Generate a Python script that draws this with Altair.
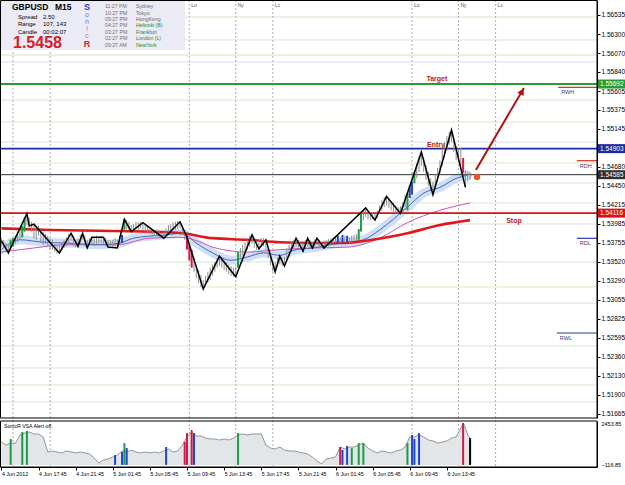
import altair as alt
import pandas as pd

FONT = "Liberation Sans"

# ---------------- data ----------------
# 15-minute bars, index 0 = 4 Jun 13:45
bar_high = [
    1.5381, 1.5379, 1.5375, 1.5373, 1.5379, 1.5381, 1.5384, 1.5389, 1.5391, 1.5396,
    1.5406, 1.5411, 1.5406, 1.5401, 1.5398, 1.5393, 1.5396, 1.5391, 1.5389, 1.5386,
    1.5384, 1.5381, 1.5379, 1.5374, 1.5371, 1.5373, 1.5376, 1.5379, 1.5382, 1.5386,
    1.5387, 1.5384, 1.5379, 1.5381, 1.5385, 1.5387, 1.5384, 1.5379, 1.5381, 1.5382,
    1.5381, 1.5384, 1.5382, 1.5384, 1.5382, 1.5381, 1.5379, 1.5378, 1.5379, 1.5381,
    1.5379, 1.5384, 1.5385, 1.5404, 1.5403, 1.5401, 1.5397, 1.5398, 1.5401, 1.5400,
    1.5401, 1.5400, 1.5397, 1.5396, 1.5393, 1.5392, 1.5391, 1.5392, 1.5390, 1.5387,
    1.5389, 1.5393, 1.5397, 1.5398, 1.5400, 1.5401, 1.5402, 1.5401, 1.5396, 1.5391,
    1.5384, 1.5373, 1.5367, 1.5357, 1.5348, 1.5342, 1.5336, 1.5330, 1.5335, 1.5340,
    1.5345, 1.5349, 1.5352, 1.5357, 1.5359, 1.5357, 1.5354, 1.5352, 1.5349, 1.5347,
    1.5345, 1.5346, 1.5364, 1.5369, 1.5373, 1.5376, 1.5379, 1.5384, 1.5385, 1.5381,
    1.5376, 1.5379, 1.5381, 1.5381, 1.5379, 1.5369, 1.5360, 1.5352, 1.5352, 1.5357,
    1.5359, 1.5357, 1.5358, 1.5367, 1.5373, 1.5376, 1.5379, 1.5381, 1.5379, 1.5376,
    1.5375, 1.5379, 1.5381, 1.5379, 1.5376, 1.5379, 1.5381, 1.5379, 1.5376, 1.5378,
    1.5379, 1.5380, 1.5381, 1.5382, 1.5384, 1.5384, 1.5382, 1.5385, 1.5384, 1.5384,
    1.5382, 1.5384, 1.5385, 1.5386, 1.5392, 1.5412, 1.5415, 1.5418, 1.5414, 1.5413,
    1.5412, 1.5411, 1.5415, 1.5421, 1.5428, 1.5431, 1.5432, 1.5429, 1.5426, 1.5424,
    1.5421, 1.5419, 1.5420, 1.5425, 1.5434, 1.5436, 1.5445, 1.5450, 1.5462, 1.5472,
    1.5481, 1.5486, 1.5479, 1.5470, 1.5462, 1.5454, 1.5450, 1.5458, 1.5467, 1.5476,
    1.5489, 1.5498, 1.5506, 1.5511, 1.5513, 1.5503, 1.5494, 1.5491, 1.5491, 1.5479,
    1.5464, 1.5462, 1.5461,
]
bar_low = [
    1.5371, 1.5369, 1.5364, 1.5363, 1.5370, 1.5371, 1.5374, 1.5376, 1.5379, 1.5382,
    1.5389, 1.5397, 1.5393, 1.5389, 1.5381, 1.5379, 1.5384, 1.5376, 1.5373, 1.5374,
    1.5371, 1.5367, 1.5367, 1.5364, 1.5362, 1.5363, 1.5367, 1.5369, 1.5371, 1.5375,
    1.5378, 1.5371, 1.5370, 1.5371, 1.5375, 1.5379, 1.5371, 1.5369, 1.5373, 1.5374,
    1.5371, 1.5374, 1.5373, 1.5375, 1.5374, 1.5371, 1.5370, 1.5369, 1.5370, 1.5371,
    1.5369, 1.5373, 1.5375, 1.5391, 1.5392, 1.5391, 1.5389, 1.5390, 1.5392, 1.5391,
    1.5393, 1.5391, 1.5389, 1.5387, 1.5386, 1.5385, 1.5384, 1.5384, 1.5382, 1.5381,
    1.5381, 1.5385, 1.5387, 1.5389, 1.5390, 1.5391, 1.5392, 1.5393, 1.5386, 1.5379,
    1.5367, 1.5354, 1.5345, 1.5340, 1.5332, 1.5326, 1.5321, 1.5319, 1.5323, 1.5327,
    1.5330, 1.5335, 1.5340, 1.5345, 1.5347, 1.5345, 1.5342, 1.5340, 1.5337, 1.5335,
    1.5334, 1.5334, 1.5345, 1.5357, 1.5360, 1.5364, 1.5367, 1.5371, 1.5374, 1.5369,
    1.5367, 1.5368, 1.5370, 1.5371, 1.5367, 1.5357, 1.5348, 1.5340, 1.5340, 1.5347,
    1.5349, 1.5347, 1.5347, 1.5354, 1.5360, 1.5367, 1.5369, 1.5371, 1.5370, 1.5367,
    1.5365, 1.5369, 1.5371, 1.5370, 1.5369, 1.5371, 1.5373, 1.5370, 1.5369, 1.5369,
    1.5370, 1.5371, 1.5373, 1.5374, 1.5375, 1.5375, 1.5375, 1.5376, 1.5376, 1.5375,
    1.5375, 1.5376, 1.5378, 1.5378, 1.5379, 1.5389, 1.5403, 1.5407, 1.5404, 1.5403,
    1.5404, 1.5403, 1.5406, 1.5411, 1.5415, 1.5419, 1.5421, 1.5418, 1.5415, 1.5413,
    1.5412, 1.5411, 1.5411, 1.5413, 1.5419, 1.5415, 1.5430, 1.5434, 1.5448, 1.5454,
    1.5462, 1.5469, 1.5462, 1.5452, 1.5445, 1.5440, 1.5434, 1.5440, 1.5450, 1.5458,
    1.5469, 1.5479, 1.5489, 1.5495, 1.5498, 1.5486, 1.5476, 1.5474, 1.5470, 1.5461,
    1.5443, 1.5450, 1.5452,
]
colored_index = [4, 5, 9, 10, 52, 53, 80, 81, 82, 102, 145, 147, 149, 154, 155, 175, 176, 177, 178, 199]
colored_class = ["up", "up", "up", "up", "neutral", "up", "down", "down", "down", "up",
                 "neutral", "neutral", "neutral", "up", "up", "up", "neutral", "neutral", "up", "down"]

zz_index = [0, 3, 11, 12, 14, 25, 30, 33, 35, 37, 39, 44, 46, 50, 53, 56, 61, 70, 77, 80,
            87, 94, 101, 108, 111, 114, 118, 120, 122, 127, 130, 132, 134, 136, 139, 157, 161,
            166, 172, 181, 186, 194, 200]
zz_price = [1.5378, 1.5363, 1.5411, 1.5396, 1.5398, 1.5363, 1.5387, 1.5371, 1.5387, 1.5369,
            1.5382, 1.5382, 1.5370, 1.5369, 1.5404, 1.5389, 1.5400, 1.5381, 1.5401, 1.5382,
            1.5319, 1.5359, 1.5334, 1.5385, 1.5368, 1.5379, 1.5340, 1.5359, 1.5347, 1.5381,
            1.5365, 1.5381, 1.5369, 1.5381, 1.5369, 1.5418, 1.5403, 1.5432, 1.5411, 1.5486,
            1.5434, 1.5513, 1.5443]

ma_red_index = [0, 21, 42, 64, 78, 91, 106, 120, 134, 146, 160, 175, 189, 202]
ma_red = [1.5393, 1.5391, 1.5390, 1.5389, 1.5387, 1.5381, 1.5379, 1.5376, 1.5375, 1.5375,
          1.5379, 1.5387, 1.5397, 1.5403]
ma_pink_index = [0, 14, 28, 50, 64, 77, 86, 91, 106, 120, 134, 149, 163, 175, 189, 202]
ma_pink = [1.5364, 1.5369, 1.5373, 1.5373, 1.5381, 1.5382, 1.5376, 1.5370, 1.5364, 1.5367,
           1.5369, 1.5370, 1.5381, 1.5400, 1.5415, 1.5424]
ma_blue_index = [0, 8, 18, 28, 42, 51, 57, 71, 78, 84, 91, 99, 106, 113, 120, 127, 134, 142,
                 149, 156, 163, 175, 182, 189, 196, 201]
ma_blue = [1.5367, 1.5379, 1.5376, 1.5375, 1.5373, 1.5375, 1.5381, 1.5385, 1.5387, 1.5375,
           1.5363, 1.5354, 1.5358, 1.5363, 1.5360, 1.5367, 1.5369, 1.5373, 1.5376, 1.5379,
           1.5391, 1.5419, 1.5436, 1.5443, 1.5454, 1.5458]

vol_index = list(range(0, 200, 2)) + [199, 200, 201, 202]
vol = [1280, 1110, 1220, 1200, 1670, 1780, 1840, 1730, 1730, 1560,
       720, 780, 720, 670, 780, 720, 670, 720, 670, 610,
       390, 110, 270, 330, 440, 550, 780, 720, 830, 720,
       670, 720, 670, 720, 670, 780, 890, 720, 780, 1110,
       1560, 1840, 1620, 1620, 1500, 1450, 1450, 1390, 1450, 1390,
       1500, 1670, 1730, 1670, 1730, 1730, 1730, 1110, 940, 890,
       1000, 830, 780, 780, 720, 670, 610, 440, 220, 50,
       330, 390, 440, 1000, 890, 1000, 1000, 1110, 1220, 940,
       780, 670, 780, 720, 670, 780, 830, 1000, 1560, 1560,
       1670, 1560, 1390, 1340, 1220, 1280, 1340, 1500, 1560, 2060,
       2340, 2060, 1670, 1500]
vsa_index = [4, 9, 11, 49, 52, 53, 54, 71, 79, 80, 82, 83, 102, 146, 147, 149, 151, 154, 156,
             175, 177, 178, 180, 199, 202]
vsa_value = [1450, 1840, 1900, 550, 720, 1220, 940, 1000, 1280, 1780, 1950, 1780, 1780, 1000,
             830, 1060, 940, 1220, 1220, 1220, 1670, 1450, 1780, 2340, 1500]
vsa_class = ["up", "up", "up", "neutral", "neutral", "up", "neutral", "neutral", "down", "down",
             "down", "neutral", "up", "down", "neutral", "neutral", "up", "up", "up", "up",
             "neutral", "neutral", "neutral", "down", "current"]

price_ticks = [1.56535, 1.56300, 1.56070, 1.55840, 1.55605, 1.55375, 1.55145, 1.54680, 1.54450,
               1.54215, 1.53985, 1.53755, 1.53520, 1.53290, 1.53055, 1.52825, 1.52595, 1.52360,
               1.52130, 1.51900, 1.51665]
xtick_index = [0, 16, 32, 48, 64, 80, 96, 112, 128, 144, 160, 176, 192]
xtick_labels = ["4 Jun 2012", "4 Jun 17:45", "4 Jun 21:45", "5 Jun 01:45", "5 Jun 05:45",
                "5 Jun 09:45", "5 Jun 13:45", "5 Jun 17:45", "5 Jun 21:45", "6 Jun 01:45",
                "6 Jun 05:45", "6 Jun 09:45", "6 Jun 13:45"]

key_levels = [1.55692, 1.54903, 1.54585, 1.54116]
key_names = ["target", "entry", "current", "stop"]
fib_levels = [1.56510, 1.56046, 1.55497, 1.54484, 1.53519, 1.52493, 1.51810,
              1.56230, 1.55228, 1.54728, 1.54239, 1.53214, 1.52017,
              1.55961, 1.54984, 1.53983, 1.53018, 1.52225]
fib_kind = ["g"] * 7 + ["t"] * 6 + ["l"] * 5
ref_labels = ["RWH", "RDH", "RDL", "RWL"]
ref_price = [1.55652, 1.54756, 1.53808, 1.52652]
ref_kind = ["high", "high", "low", "low"]
session_index = [5, 21, 81, 101, 117, 177, 197, 213]
session_label = ["", "", "Lo", "Ny", "Lc", "Lo", "Ny", "Lc"]   # first two hidden by the info box

# ---------------- layout / style ----------------
W, H = 597, 467            # whole plotting area (price panel + VSA panel)
MAIN_BOTTOM, VOL_TOP = 418, 421
x_scale = alt.Scale(domain=[-0.6, 256.7], nice=False, zero=False)
y_scale = alt.Scale(domain=[1.51614, 1.56718], range=[MAIN_BOTTOM, 0], nice=False, zero=False)
v_scale = alt.Scale(domain=[-116.85, 2453.85], range=[H, VOL_TOP], nice=False, zero=False)
CLASS_COL = {"up": "#1f9a48", "neutral": "#2444c8", "down": "#d01a4a", "current": "#000000"}
FIB_COL = {"g": "#cfe8c8", "t": "#ebe0c8", "l": "#dcdcf2"}
KEY_COL = {"target": "#2f9a2f", "entry": "#1c2a9c", "current": "#303030", "stop": "#e01010"}
KEY_W = {"target": 2, "entry": 1.6, "current": 1, "stop": 1.6}
REF_COL = {"high": "#e03020", "low": "#2a3ab0"}
ref_start = [240, 248, 248, 239.4]
ARROW = "#b01010"

y_axis = alt.Axis(orient="right", values=price_ticks, format=".5f", title=None, grid=False,
                  labelFont=FONT, labelFontSize=6.5, labelColor="#000", tickSize=3,
                  tickColor="#000", domainColor="#000", labelPadding=1, labelFlush=False,
                  labelOverlap=False, labelBound=False)
label_expr = "[" + ",".join("'%s'" % s for s in xtick_labels) + "][round(datum.value/16)]"
x_axis = alt.Axis(orient="bottom", values=xtick_index, labelExpr=label_expr, title=None,
                  grid=False, labelFont=FONT, labelFontSize=5.3, labelColor="#000",
                  labelAlign="left", tickSize=3, tickColor="#000", domainColor="#000",
                  labelPadding=1, labelFlush=False, labelOverlap=False, labelBound=False)
v_axis = alt.Axis(orient="right", values=[-116.85, 2453.85], format=".2f", title=None,
                  grid=False, labelFont=FONT, labelFontSize=5.5, labelColor="#000", tickSize=0,
                  domainColor="#000", labelPadding=4, labelFlush=True, labelOverlap=False)


def X(f):
    return alt.X(f, type="quantitative", scale=x_scale, axis=x_axis)


def Y(f):
    return alt.Y(f, type="quantitative", scale=y_scale, axis=y_axis)


def YV(f):
    return alt.Y(f, type="quantitative", scale=v_scale, axis=v_axis)


# ---------------- frames ----------------
bars = pd.DataFrame({"i": list(range(len(bar_high))), "hi": bar_high, "lo": bar_low})
cmap = dict(zip(colored_index, colored_class))
bars["cls"] = [cmap.get(i, "plain") for i in bars["i"]]
bars["col"] = [CLASS_COL.get(c, "#8e8e8e") for c in bars["cls"]]
plain = bars[bars["cls"] == "plain"]
colored = bars[bars["cls"] != "plain"]

zz = pd.DataFrame({"i": zz_index, "p": zz_price})
red_df = pd.DataFrame({"i": ma_red_index, "p": ma_red})
pink_df = pd.DataFrame({"i": ma_pink_index, "p": ma_pink})
blue_df = pd.DataFrame({"i": ma_blue_index, "p": ma_blue})
fib_df = pd.DataFrame({"p": fib_levels, "col": [FIB_COL[k] for k in fib_kind]})
key_df = pd.DataFrame({"p": key_levels, "name": key_names,
                       "col": [KEY_COL[k] for k in key_names],
                       "w": [KEY_W[k] for k in key_names],
                       "label": ["%.5f" % v for v in key_levels]})
ref_df = pd.DataFrame({"i": ref_start, "i2": [256.7] * 4, "p": ref_price, "label": ref_labels,
                       "col": [REF_COL[k] for k in ref_kind]})
sess_df = pd.DataFrame({"i": session_index, "label": session_label})
sess_lab = sess_df[sess_df["label"] != ""]
one = pd.DataFrame({"k": [0]})

ann_df = pd.DataFrame({"label": ["Target", "Entry", "Stop"], "i": [187.7, 187.3, 220.9],
                       "p": [1.55753, 1.54948, 1.54020]})
arrow_df = pd.DataFrame({"i": [204.5, 225.2], "p": [1.54642, 1.55644]})
head_df = pd.DataFrame({"i": [224.4], "p": [1.55601]})
dot_df = pd.DataFrame({"i": [205.0], "p": [1.54557]})

main_layers = [
    alt.Chart(fib_df).mark_rule(strokeWidth=1).encode(y=Y("p"), color=alt.Color("col:N", scale=None)),
    alt.Chart(sess_df).mark_rule(strokeWidth=1, strokeDash=[2, 2], color="#b0b0b0").encode(x=X("i")),
    alt.Chart(blue_df).mark_line(color="#cde0f5", strokeWidth=9, interpolate="monotone",
                                 strokeCap="round").encode(x=X("i"), y=Y("p")),
    alt.Chart(pink_df).mark_line(color="#d050b8", strokeWidth=1, interpolate="monotone").encode(x=X("i"), y=Y("p")),
    alt.Chart(blue_df).mark_line(color="#4a62c0", strokeWidth=1, interpolate="monotone").encode(x=X("i"), y=Y("p")),
    alt.Chart(red_df).mark_line(color="#e01818", strokeWidth=2.6, interpolate="monotone").encode(x=X("i"), y=Y("p")),
    alt.Chart(key_df).mark_rule().encode(y=Y("p"), color=alt.Color("col:N", scale=None),
                                         strokeWidth=alt.StrokeWidth("w:Q", scale=None)),
    alt.Chart(plain).mark_rule(strokeWidth=1, color="#8e8e8e").encode(x=X("i"), y=Y("hi"), y2="lo"),
    alt.Chart(colored).mark_rule(strokeWidth=2).encode(x=X("i"), y=Y("hi"), y2="lo",
                                                      color=alt.Color("col:N", scale=None)),
    alt.Chart(zz).mark_line(color="#000000", strokeWidth=1.5).encode(x=X("i"), y=Y("p")),
    alt.Chart(ref_df).mark_rule(strokeWidth=1.2).encode(x=X("i"), x2="i2", y=Y("p"),
                                                       color=alt.Color("col:N", scale=None)),
    alt.Chart(ref_df).mark_text(align="left", baseline="middle", dx=3, dy=5, font=FONT,
                                fontSize=5.5, color="#3a3a70").encode(x=X("i"), y=Y("p"), text="label:N"),
    alt.Chart(ann_df).mark_text(align="center", baseline="middle", font=FONT, fontSize=7,
                                fontWeight="bold", color="#b81c1c").encode(x=X("i"), y=Y("p"), text="label:N"),
    alt.Chart(arrow_df).mark_line(color=ARROW, strokeWidth=2).encode(x=X("i"), y=Y("p")),
    alt.Chart(head_df).mark_point(shape="triangle-up", filled=True, size=55, angle=30,
                                  color=ARROW, opacity=1).encode(x=X("i"), y=Y("p")),
    alt.Chart(dot_df).mark_circle(size=40, color="#f05020", opacity=1).encode(x=X("i"), y=Y("p")),
    alt.Chart(sess_lab).mark_text(align="left", baseline="middle", dx=2, font=FONT, fontSize=5,
                                  color="#555555").encode(x=X("i"), y=alt.value(5), text="label:N"),
    alt.Chart(one).mark_rect(color="#ebebf6").encode(x=alt.value(1), x2=alt.value(185),
                                                      y=alt.value(1), y2=alt.value(50)),
    # panel frames
    alt.Chart(one).mark_rect(fillOpacity=0, stroke="#000000", strokeWidth=1)
    .encode(x=alt.value(0.5), x2=alt.value(W), y=alt.value(0.5), y2=alt.value(MAIN_BOTTOM)),
    alt.Chart(one).mark_rect(fillOpacity=0, stroke="#000000", strokeWidth=1)
    .encode(x=alt.value(0.5), x2=alt.value(W), y=alt.value(VOL_TOP), y2=alt.value(H)),
    alt.Chart(key_df).mark_rule(strokeWidth=9).encode(x=alt.value(W + 1), x2=alt.value(625), y=Y("p"),
                                                     color=alt.Color("col:N", scale=None)),
    alt.Chart(key_df).mark_text(align="left", baseline="middle", font=FONT, fontSize=6.5,
                                color="white").encode(x=alt.value(W + 3), y=Y("p"), text="label:N"),
]

# info panel texts: (text, x, y, size, color, weight, align)
panel_items = [
    ("GBPUSD", 12, 7, 8.5, "#000000", "bold", "left"),
    ("M15", 55, 7, 8.5, "#000000", "bold", "left"),
    ("Spread", 18, 16.5, 6, "#000000", "normal", "left"),
    ("2.50", 43, 16.5, 6, "#000000", "normal", "left"),
    ("Range", 18, 24, 6, "#000000", "normal", "left"),
    ("107, 143", 43, 24, 6, "#000000", "normal", "left"),
    ("Candle", 18, 31.5, 6, "#000000", "normal", "left"),
    ("00:02:07", 43, 31.5, 6, "#000000", "normal", "left"),
    ("1.5458", 13, 43, 16, "#d42028", "bold", "left"),
    ("S", 87, 7, 9, "#1f3fd0", "bold", "center"),
    ("o", 87, 15, 7, "#7474d6", "normal", "center"),
    ("n", 87, 22, 7, "#7474d6", "normal", "center"),
    ("i", 87, 29, 7, "#8c7cd0", "normal", "center"),
    ("c", 87, 36, 7, "#d06a96", "normal", "center"),
    ("R", 87, 44, 9, "#d42030", "bold", "center"),
]
times = ["11:27 PM", "10:27 PM", "09:27 PM", "04:27 PM", "03:27 PM", "02:27 PM", "09:27 AM"]
cities = ["Sydney", "Tokyo", "HongKong", "Helsinki (B)", "Frankfurt", "London (L)", "NewYork"]
rows_y = [6, 12.5, 19, 25.3, 31.7, 38, 44.5]
for k, (t, c) in enumerate(zip(times, cities)):
    panel_items.append((t, 105, rows_y[k], 5.2, "#7a6e62", "normal", "left"))
    panel_items.append((c, 136, rows_y[k], 5.2, "#6a6a6a" if k < 3 else "#2a8a2a", "normal", "left"))

for t, px, py, fs, col, fw, al in panel_items:
    main_layers.append(alt.Chart(one).mark_text(font=FONT, fontSize=fs, color=col, fontWeight=fw,
                                                align=al, baseline="middle")
                       .encode(x=alt.value(px), y=alt.value(py), text=alt.value(t)))

main = alt.layer(*main_layers)

# ---------------- VSA panel ----------------
vol_df = pd.DataFrame({"i": vol_index, "v": vol})
vsa_df = pd.DataFrame({"i": vsa_index, "v": vsa_value, "z": [0] * len(vsa_index),
                       "col": [CLASS_COL[c] for c in vsa_class]})
vol_layers = [
    alt.Chart(vol_df).mark_area(color="#e2e6e8").encode(x=X("i"), y=YV("v")),
    alt.Chart(vol_df).mark_line(color="#7e7e7e", strokeWidth=0.8).encode(x=X("i"), y=YV("v")),
    alt.Chart(vsa_df).mark_rule(strokeWidth=2).encode(x=X("i"), y=YV("v"), y2="z",
                                                     color=alt.Color("col:N", scale=None)),
    alt.Chart(one).mark_text(font=FONT, fontSize=5.2, align="left", baseline="middle", color="#000")
    .encode(x=alt.value(4), y=alt.value(VOL_TOP + 5), text=alt.value("SonicR VSA   Alert off.")),
]
volg = alt.layer(*vol_layers)

chart = (alt.layer(main, volg)
         .resolve_scale(y="independent")
         .properties(width=W, height=H,
                     autosize=alt.AutoSizeParams(type="none"),
                     padding={"left": 0, "top": 0, "right": 625 - W, "bottom": 485 - H},
                     background="white")
         .configure_view(strokeWidth=0))

chart.save("out.html", embed_options={"renderer": "svg", "actions": False})
